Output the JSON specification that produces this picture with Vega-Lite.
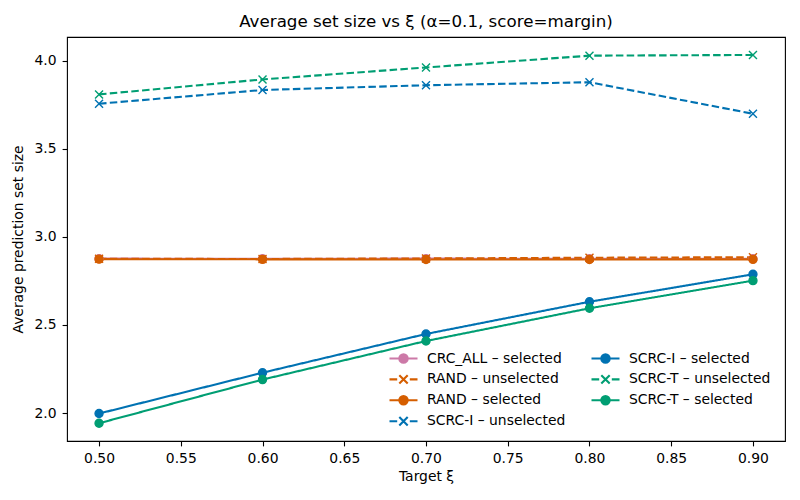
{
  "$schema": "https://vega.github.io/schema/vega-lite/v6.json",
  "autosize": {"type": "none"},
  "padding": {"left": 67, "top": 37, "right": 15, "bottom": 59},
  "width": 718,
  "height": 404,
  "title": {"text": "Average set size vs ξ (α=0.1, score=margin)", "font": "DejaVu Sans", "fontSize": 16.7, "fontWeight": "normal", "color": "black", "anchor": "middle", "offset": 6},
  "config": {
    "font": "DejaVu Sans",
    "view": {"stroke": "black", "strokeWidth": 1.1},
    "axis": {"grid": false, "domain": false, "tickColor": "black", "tickSize": 4.9, "tickWidth": 1.1, "labelColor": "black", "labelFont": "DejaVu Sans", "labelFontSize": 13.9, "labelPadding": 4.5, "titleFont": "DejaVu Sans", "titleFontSize": 13.9, "titleFontWeight": "normal", "titleColor": "black"}
  },
  "data": {"values": [
    {"xi": 0.5, "series": "CRC_ALL – selected", "status": "selected", "value": 2.877},
    {"xi": 0.6, "series": "CRC_ALL – selected", "status": "selected", "value": 2.876},
    {"xi": 0.7, "series": "CRC_ALL – selected", "status": "selected", "value": 2.877},
    {"xi": 0.8, "series": "CRC_ALL – selected", "status": "selected", "value": 2.876},
    {"xi": 0.9, "series": "CRC_ALL – selected", "status": "selected", "value": 2.876},
    {"xi": 0.5, "series": "RAND – unselected", "status": "unselected", "value": 2.876},
    {"xi": 0.6, "series": "RAND – unselected", "status": "unselected", "value": 2.875},
    {"xi": 0.7, "series": "RAND – unselected", "status": "unselected", "value": 2.878},
    {"xi": 0.8, "series": "RAND – unselected", "status": "unselected", "value": 2.882},
    {"xi": 0.9, "series": "RAND – unselected", "status": "unselected", "value": 2.885},
    {"xi": 0.5, "series": "RAND – selected", "status": "selected", "value": 2.874},
    {"xi": 0.6, "series": "RAND – selected", "status": "selected", "value": 2.873},
    {"xi": 0.7, "series": "RAND – selected", "status": "selected", "value": 2.872},
    {"xi": 0.8, "series": "RAND – selected", "status": "selected", "value": 2.872},
    {"xi": 0.9, "series": "RAND – selected", "status": "selected", "value": 2.873},
    {"xi": 0.5, "series": "SCRC-I – unselected", "status": "unselected", "value": 3.757},
    {"xi": 0.6, "series": "SCRC-I – unselected", "status": "unselected", "value": 3.835},
    {"xi": 0.7, "series": "SCRC-I – unselected", "status": "unselected", "value": 3.862},
    {"xi": 0.8, "series": "SCRC-I – unselected", "status": "unselected", "value": 3.879},
    {"xi": 0.9, "series": "SCRC-I – unselected", "status": "unselected", "value": 3.700},
    {"xi": 0.5, "series": "SCRC-I – selected", "status": "selected", "value": 1.997},
    {"xi": 0.6, "series": "SCRC-I – selected", "status": "selected", "value": 2.229},
    {"xi": 0.7, "series": "SCRC-I – selected", "status": "selected", "value": 2.449},
    {"xi": 0.8, "series": "SCRC-I – selected", "status": "selected", "value": 2.632},
    {"xi": 0.9, "series": "SCRC-I – selected", "status": "selected", "value": 2.788},
    {"xi": 0.5, "series": "SCRC-T – unselected", "status": "unselected", "value": 3.810},
    {"xi": 0.6, "series": "SCRC-T – unselected", "status": "unselected", "value": 3.895},
    {"xi": 0.7, "series": "SCRC-T – unselected", "status": "unselected", "value": 3.963},
    {"xi": 0.8, "series": "SCRC-T – unselected", "status": "unselected", "value": 4.030},
    {"xi": 0.9, "series": "SCRC-T – unselected", "status": "unselected", "value": 4.034},
    {"xi": 0.5, "series": "SCRC-T – selected", "status": "selected", "value": 1.942},
    {"xi": 0.6, "series": "SCRC-T – selected", "status": "selected", "value": 2.190},
    {"xi": 0.7, "series": "SCRC-T – selected", "status": "selected", "value": 2.409},
    {"xi": 0.8, "series": "SCRC-T – selected", "status": "selected", "value": 2.595},
    {"xi": 0.9, "series": "SCRC-T – selected", "status": "selected", "value": 2.752}
  ]},
  "encoding": {
    "x": {"field": "xi", "type": "quantitative", "title": "Target ξ",
      "scale": {"domain": [0.4804, 0.9196], "nice": false, "zero": false},
      "axis": {"values": [0.5, 0.55, 0.6, 0.65, 0.7, 0.75, 0.8, 0.85, 0.9], "format": ".2f", "labelPadding": 6, "titlePadding": 4}},
    "y": {"field": "value", "type": "quantitative", "title": "Average prediction set size",
      "scale": {"domain": [1.841, 4.136], "nice": false, "zero": false},
      "axis": {"values": [2.0, 2.5, 3.0, 3.5, 4.0], "format": ".1f", "labelPadding": 6, "titlePadding": 9}},
    "color": {"field": "series", "type": "nominal",
      "scale": {"domain": ["CRC_ALL – selected", "RAND – unselected", "RAND – selected", "SCRC-I – unselected", "SCRC-I – selected", "SCRC-T – unselected", "SCRC-T – selected"],
                "range": ["#CC79A7", "#D55E00", "#D55E00", "#0072B2", "#0072B2", "#009E73", "#009E73"]},
      "legend": {
        "title": null, "orient": "none", "legendX": 328, "legendY": 313, "columns": 2, "columnPadding": 21, "rowPadding": 3.9,
        "symbolSize": 196, "symbolStrokeWidth": 2.1, "labelFont": "DejaVu Sans", "labelFontSize": 13.9, "labelColor": "black", "labelOffset": 15,
        "padding": 0,
        "encode": {
          "symbols": {"update": {
            "shape": {"signal": "indexof(datum.value, 'unselected') >= 0 ? 'M-2,0H-0.9M0.9,0H2M-0.6,-0.6L0.6,0.6M-0.6,0.6L0.6,-0.6' : 'M-2,0H2M0.6,0A0.6,0.6 0 1,1 -0.6,0A0.6,0.6 0 1,1 0.6,0Z'"},
            "fill": {"scale": "color", "field": "value"},
            "stroke": {"scale": "color", "field": "value"},
            "strokeDash": {"value": []},
            "opacity": {"value": 1}
          }}
        }
      }}
  },
  "layer": [
    {
      "mark": {"type": "line", "strokeWidth": 2.1},
      "encoding": {
        "strokeDash": {"field": "status", "type": "nominal", "scale": {"domain": ["selected", "unselected"], "range": [[1, 0], [7.5, 3.3]]}, "legend": null}
      }
    },
    {
      "mark": {"type": "point", "filled": true, "opacity": 1, "strokeWidth": 1.4, "size": 64},
      "encoding": {
        "stroke": {"field": "series", "type": "nominal",
          "scale": {"domain": ["CRC_ALL – selected", "RAND – unselected", "RAND – selected", "SCRC-I – unselected", "SCRC-I – selected", "SCRC-T – unselected", "SCRC-T – selected"],
                    "range": ["#CC79A7", "#D55E00", "#D55E00", "#0072B2", "#0072B2", "#009E73", "#009E73"]}, "legend": null},
        "shape": {"field": "status", "type": "nominal", "scale": {"domain": ["selected", "unselected"], "range": ["circle", "M-1,-1L1,1M-1,1L1,-1"]}, "legend": null}
      }
    }
  ]
}
